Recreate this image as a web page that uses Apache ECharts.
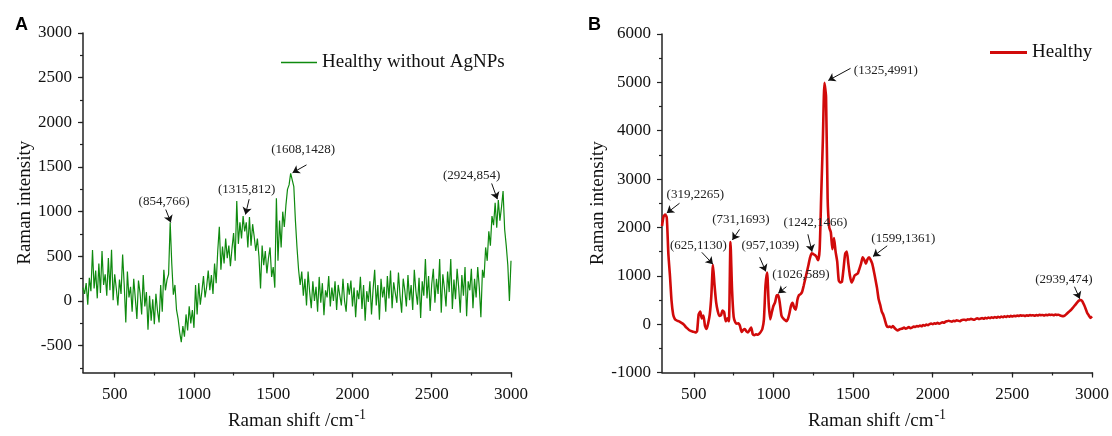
<!DOCTYPE html>
<html>
<head>
<meta charset="utf-8">
<script src="https://cdn.jsdelivr.net/npm/echarts@6/dist/echarts.min.js"></script>
<style>
  html, body { margin: 0; padding: 0; background: #fff; }
  #chart { width: 1112px; height: 436px; }
</style>
</head>
<body>
<div id="chart"></div>
<script>
// ---------------- DATA ----------------
// Raman shift sampling grid (cm-1): 300 .. 3000, every 10
const shiftStart = 300;
const shiftStep = 10;

// Panel A: Healthy without AgNPs (noisy spectrum)
const intensityA = [
  150, 80, 200, -40, 260, 110, 570, 140, 340, 30,
  420, 90, 560, 180, 300, 60, 480, 120, 575, 10,
  300, 140, -50, 240, 80, 520, 180, -240, 330, 40,
  160, -120, 250, 30, -200, 230, 90, -150, 290, -60,
  100, -320, 60, -220, 20, -260, 80, -110, -240, 180,
  -120, 350, 120, 240, 300, 880, 420, 70, 180, -100,
  -200, -350, -460, -280, -400, -150, -330, -60, -250, -100,
  -300, 180, -150, 200, -40, 110, 280, 40, 160, 340,
  120, 290, 80, 420, 200, 560, 830, 350, 610, 420,
  700, 480, 620, 390, 590, 760, 450, 1120, 640, 880,
  700, 950, 780, 880, 600, 940, 620, 860, 720, 560,
  700, 500, 140, 620, 400, 560, 310, 480, 600, 270,
  380, 150, 1150, 450, 900, 600, 1000, 830, 1070, 1250,
  1300, 1430, 1420, 1280, 900, 600, 350, 180, 330, 60,
  250, -50, 330, 100, -80, 220, 0, 160, -120, 270,
  -20, 200, -160, 120, 40, 280, -60, 150, 0, 220,
  -100, 180, 60, -50, 250, 0, -120, 200, 70, 230,
  -60, 150, -180, 120, 20, 270, -90, 180, -220, 110,
  -10, 220, -150, 130, 350, -50, 180, -210, 250, 40,
  160, -120, 280, 30, 340, -80, 210, 90, -20, 320,
  60, -130, 250, 120, -60, 290, 10, 180, -100, 350,
  110, -40, 260, -190, 220, 60, 470, 30, 280, -110,
  190, 360, -20, 250, 80, 470, -130, 300, 140, -60,
  330, 100, 470, -90, 240, 20, 360, 150, -130, 290,
  60, 380, -170, 220, 120, 360, -80, 250, 40, 380,
  150, -180, 350, 260, 600, 450, 780, 620, 950, 850,
  1100, 820, 1130, 900, 1050, 1230, 800, 620, 400, 0,
  450
];

// Panel B: Healthy (SERS spectrum)
const intensityB = [
  2030, 2230, 2265, 2200, 1450, 1000, 480, 200, 110, 80,
  65, 50, 30, 10, -20, -60, -90, -120, -140, -150,
  -160, -170, -150, 200, 260, 120, 180, -40, -100, 20,
  200, 600, 1228, 800, 450, 270, 170, 180, 280, 250,
  60, 120, 60, 1700, 700, 150, 40, 10, 20, -40,
  -160, -120, -100, -150, -170, -120, -70, -210, -230, -210,
  -220, -200, -160, -100, 100, 800, 1066, 420, 100, 250,
  380, 450, 590, 600, 430, 180, 120, 90, 60, 100,
  220, 380, 440, 340, 300, 500, 600, 620, 670, 800,
  940, 1080, 1230, 1380, 1466, 1450, 1430, 1390, 1320, 1550,
  2700, 3800, 4991, 4700, 2600, 2000, 1900, 1550, 1780, 1500,
  1300, 900, 860, 880, 1150, 1450, 1500, 1250, 1000, 860,
  920, 1010, 1030, 1050, 1150, 1250, 1380, 1330, 1250, 1340,
  1380, 1330, 1250, 1100, 930, 750, 520, 400, 260, 190,
  80, -30, -60, -50, -70, -40, -80, -110, -130, -110,
  -100, -90, -70, -95, -80, -60, -85, -70, -50, -60,
  -40, -50, -30, -45, -20, -30, -10, -20, 0, 10,
  0, 20, 10, 30, 10, 20, 40, 30, 50, 60,
  70, 60, 50, 70, 60, 80, 70, 60, 80, 90,
  90, 80, 100, 95, 110, 100, 90, 110, 120, 105,
  115, 125, 110, 130, 120, 135, 125, 140, 130, 145,
  135, 150, 140, 155, 145, 160, 150, 165, 155, 170,
  160, 175, 165, 180, 170, 185, 175, 180, 170, 185,
  175, 190, 180, 185, 175, 190, 180, 195, 185, 190,
  180, 195, 185, 200, 190, 195, 185, 200, 190, 195,
  180, 170, 165, 180, 210, 240, 270, 300, 340, 380,
  420, 460, 490, 500, 470, 400, 320, 230, 180, 130,
  160
];

// Axis tick labels
const xMajorTicks = [500, 1000, 1500, 2000, 2500, 3000];
const xMinorTicks = [500, 750, 1000, 1250, 1500, 1750, 2000, 2250, 2500, 2750, 3000];
const yMajorTicksA = [-500, 0, 500, 1000, 1500, 2000, 2500, 3000];
const yMinorTicksA = [-750, -500, -250, 0, 250, 500, 750, 1000, 1250, 1500, 1750, 2000, 2250, 2500, 2750, 3000];

const seriesNameA = 'Healthy without AgNPs';
const seriesNameB = 'Healthy';

// Peak annotation texts
const peakLabelsA = ['(854,766)', '(1315,812)', '(1608,1428)', '(2924,854)'];
const peakLabelsB = ['(319,2265)', '(625,1130)', '(731,1693)', '(957,1039)', '(1026,589)',
                     '(1242,1466)', '(1325,4991)', '(1599,1361)', '(2939,474)'];

// ---------------- ANNOTATION LAYOUT (data space) ----------------
// [text position, arrow tail, arrow tip]
const annoLayoutA = [
  [[811, 1115], [822, 1024], [854, 880]],
  [[1332, 1243], [1348, 1140], [1325, 969]],
  [[1689, 1693], [1710, 1524], [1622, 1436]],
  [[2752, 1408], [2878, 1316], [2914, 1140]]
];
const annoLayoutB = [
  [[509, 2670], [410, 2500], [330, 2297]],
  [[529, 1620], [550, 1485], [620, 1240]],
  [[795, 2163], [787, 1960], [742, 1742]],
  [[980, 1620], [913, 1383], [952, 1090]],
  [[1172, 1026], [1081, 774], [1030, 640]],
  [[1263, 2094], [1216, 1858], [1242, 1499]],
  [[1705, 5242], [1484, 5290], [1344, 5039]],
  [[1815, 1777], [1714, 1620], [1625, 1400]],
  [[2824, 930], [2890, 774], [2923, 524]]
];

// ---------------- BUILD ----------------
function toPairs(vals) {
  return vals.map((v, i) => [shiftStart + i * shiftStep, v]);
}
const SERIF = 'Liberation Serif';
const TXT = '#111';
const AXC = '#222';
const plain = v => String(v);

function markPointsFor(labels, layout) {
  return {
    silent: true,
    animation: false,
    symbol: 'circle',
    symbolSize: 1,
    itemStyle: { color: 'rgba(0,0,0,0)' },
    label: { show: true, position: 'inside', fontFamily: SERIF, fontSize: 13, color: '#222' },
    data: labels.map((t, i) => ({ coord: layout[i][0], label: { formatter: t } }))
  };
}
function markLinesFor(layout) {
  return {
    silent: true,
    animation: false,
    symbol: ['none', 'arrow'],
    symbolSize: [7, 7],
    label: { show: false },
    itemStyle: { color: '#111' },
    lineStyle: { color: '#111', width: 1, type: 'solid', opacity: 1 },
    emphasis: { disabled: true },
    data: layout.map(l => [{ coord: l[1] }, { coord: l[2] }])
  };
}

const xName = '{a|Raman shift /cm}{b|-1}';
const xNameStyle = {
  fontFamily: SERIF, fontSize: 19, color: TXT,
  rich: {
    a: { fontFamily: SERIF, fontSize: 19, color: TXT },
    b: { fontFamily: SERIF, fontSize: 14, color: TXT, padding: [0, 0, 12, 1] }
  }
};

function xAxesFor(grid) {
  return [
    {
      gridIndex: grid, type: 'value', min: 300, max: 3000, position: 'bottom',
      name: xName, nameLocation: 'middle', nameGap: 36, nameTextStyle: xNameStyle,
      axisLine: { show: true, onZero: false, lineStyle: { color: AXC, width: 1.5 } },
      axisTick: { show: true, length: 5, customValues: xMajorTicks, lineStyle: { color: AXC, width: 1.2 } },
      axisLabel: { show: true, customValues: xMajorTicks, formatter: plain, margin: 14, fontFamily: SERIF, fontSize: 17, color: TXT },
      splitLine: { show: false }
    },
    {
      gridIndex: grid, type: 'value', min: 300, max: 3000, position: 'bottom', offset: 0,
      axisLine: { show: false, onZero: false },
      axisTick: { show: true, length: 3, customValues: xMinorTicks, lineStyle: { color: AXC, width: 1.2 } },
      axisLabel: { show: false },
      splitLine: { show: false }
    }
  ];
}

const option = {
  animation: false,
  backgroundColor: '#fff',
  title: [
    { text: 'A', left: 10, top: 11, textStyle: { fontFamily: 'Liberation Sans', fontWeight: 'bold', fontSize: 18, color: '#000' } },
    { text: 'B', left: 583, top: 11, textStyle: { fontFamily: 'Liberation Sans', fontWeight: 'bold', fontSize: 18, color: '#000' } }
  ],
  legend: [
    {
      data: [seriesNameA], left: 276, top: 48, itemWidth: 36, itemHeight: 1.6, itemGap: 8,
      icon: 'rect',
      textStyle: { fontFamily: SERIF, fontSize: 19, color: TXT }
    },
    {
      data: [seriesNameB], left: 985, top: 38, itemWidth: 37, itemHeight: 3, itemGap: 8,
      icon: 'rect',
      textStyle: { fontFamily: SERIF, fontSize: 19, color: TXT }
    }
  ],
  grid: [
    { left: 83, top: 33, width: 428, height: 346 },
    { left: 662, top: 34, width: 430, height: 345 }
  ],
  xAxis: [].concat(xAxesFor(0), xAxesFor(1)),
  yAxis: [
    {
      gridIndex: 0, type: 'value', min: -800, max: 3000, position: 'left',
      name: 'Raman intensity', nameLocation: 'middle', nameGap: 40,
      nameTextStyle: { fontFamily: SERIF, fontSize: 19, color: TXT },
      axisLine: { show: true, onZero: false, lineStyle: { color: AXC, width: 1.5 } },
      axisTick: { show: true, length: 5, customValues: yMajorTicksA, lineStyle: { color: AXC, width: 1.2 } },
      axisLabel: { show: true, customValues: yMajorTicksA, formatter: plain, margin: 11, fontFamily: SERIF, fontSize: 17, color: TXT },
      splitLine: { show: false }
    },
    {
      gridIndex: 0, type: 'value', min: -800, max: 3000, position: 'left', offset: 0,
      axisLine: { show: false, onZero: false },
      axisTick: { show: true, length: 3, customValues: yMinorTicksA, lineStyle: { color: AXC, width: 1.2 } },
      axisLabel: { show: false },
      splitLine: { show: false }
    },
    {
      gridIndex: 1, type: 'value', min: -1000, max: 6000, interval: 1000, position: 'left',
      name: 'Raman intensity', nameLocation: 'middle', nameGap: 38,
      nameTextStyle: { fontFamily: SERIF, fontSize: 19, color: TXT },
      axisLine: { show: true, onZero: false, lineStyle: { color: AXC, width: 1.5 } },
      axisTick: { show: true, length: 5, lineStyle: { color: AXC, width: 1.2 } },
      minorTick: { show: true, splitNumber: 2, length: 3, lineStyle: { color: AXC, width: 1.2 } },
      axisLabel: { show: true, formatter: plain, margin: 11, fontFamily: SERIF, fontSize: 17, color: TXT },
      splitLine: { show: false }
    }
  ],
  series: [
    {
      name: seriesNameA, type: 'line', xAxisIndex: 0, yAxisIndex: 0,
      data: toPairs(intensityA), symbol: 'none', showSymbol: false,
      lineStyle: { color: '#0f8a0f', width: 1.2 }, itemStyle: { color: '#0f8a0f' },
      markPoint: markPointsFor(peakLabelsA, annoLayoutA),
      markLine: markLinesFor(annoLayoutA)
    },
    {
      name: seriesNameB, type: 'line', xAxisIndex: 2, yAxisIndex: 2,
      data: toPairs(intensityB), symbol: 'none', showSymbol: false, smooth: 0.2,
      lineStyle: { color: '#d10a0a', width: 2.6 }, itemStyle: { color: '#d10a0a' },
      markPoint: markPointsFor(peakLabelsB, annoLayoutB),
      markLine: markLinesFor(annoLayoutB)
    }
  ]
};

const chart = echarts.init(document.getElementById('chart'), null, { renderer: 'canvas' });
chart.setOption(option);
</script>
</body>
</html>
